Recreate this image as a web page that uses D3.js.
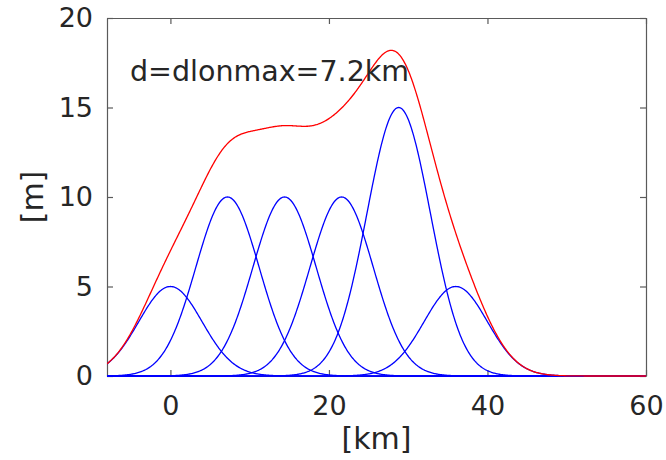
<!DOCTYPE html>
<html>
<head>
<meta charset="utf-8">
<script src="https://cdn.jsdelivr.net/npm/d3@7"></script>
<style>
  body { margin: 0; background: #fff; }
  svg text { font-family: "DejaVu Sans", sans-serif; fill: #262626; }
</style>
</head>
<body>
<svg id="chart" width="666" height="460"></svg>
<script>
// bump centres [km] and heights [m]
var centers = [0, 7.2, 14.4, 21.6, 28.8, 36];
var heights = [5, 10, 10, 10, 15, 5];
var sigma = 4; // bump width [km]
var xTicks = [0, 20, 40, 60];
var yTicks = [0, 5, 10, 15, 20];
var note = "d=dlonmax=7.2km";

var svg = d3.select("#chart");
const margin = {top: 18, right: 20, bottom: 84, left: 107};
var width = 666 - margin.left - margin.right;
var height = 460 - margin.top - margin.bottom;

var x = d3.scaleLinear().domain([-8, 60]).range([margin.left, margin.left + width]);
var y = d3.scaleLinear().domain([0, 20]).range([margin.top + height, margin.top]);

// sample positions along the x axis
var xs = d3.range(-8, 60.001, 0.1);

function bump(c, h){
    return xs.map(function(v){
        return {x: v, y: h * Math.exp(-(v - c) * (v - c) / (2 * sigma * sigma))};
    });
}

var bumps = centers.map(function(c, i){ return bump(c, heights[i]); });
var total = xs.map(function(v, j){
    return {x: v, y: d3.sum(bumps, function(b){ return b[j].y; })};
});

var line = d3.line()
    .x(function(d){ return x(d.x); })
    .y(function(d){ return y(d.y); });

// axes with inward ticks on all four sides
var axisColor = "#5a5a5a";
function styleAxis(sel){
    sel.select(".domain").attr("stroke", axisColor).attr("stroke-width", 1.2);
    sel.selectAll(".tick line").attr("stroke", axisColor).attr("stroke-width", 1.2);
    sel.selectAll(".tick text").attr("fill", "#262626").style("font-size", "27px")
       .style("font-family", "DejaVu Sans, sans-serif");
}

var axBottom = svg.append("g")
    .attr("transform", "translate(0," + (margin.top + height) + ")")
    .call(d3.axisBottom(x).tickValues(xTicks).tickSizeInner(-6).tickSizeOuter(0).tickPadding(20));
styleAxis(axBottom);

var axTop = svg.append("g")
    .attr("transform", "translate(0," + margin.top + ")")
    .call(d3.axisTop(x).tickValues(xTicks).tickSizeInner(-6).tickSizeOuter(0).tickFormat(""));
styleAxis(axTop);

var axLeft = svg.append("g")
    .attr("transform", "translate(" + margin.left + ",0)")
    .call(d3.axisLeft(y).tickValues(yTicks).tickSizeInner(-6).tickSizeOuter(0).tickPadding(14));
styleAxis(axLeft);

var axRight = svg.append("g")
    .attr("transform", "translate(" + (margin.left + width) + ",0)")
    .call(d3.axisRight(y).tickValues(yTicks).tickSizeInner(-6).tickSizeOuter(0).tickFormat(""));
styleAxis(axRight);

// curves drawn over the axes, clipped only left/right
svg.append("defs").append("clipPath").attr("id", "clip")
  .append("rect")
    .attr("x", margin.left).attr("y", margin.top - 5)
    .attr("width", width).attr("height", height + 10);

var g = svg.append("g").attr("clip-path", "url(#clip)");

g.selectAll("path.bump")
  .data(bumps)
  .enter()
  .append("path")
    .attr("class", "bump")
    .attr("d", line)
    .attr("fill", "none")
    .attr("stroke", "#0000ff")
    .attr("stroke-width", 1.3);

g.append("path")
  .datum(total)
  .attr("d", line)
  .attr("fill", "none")
  .attr("stroke", "#ff0000")
  .attr("stroke-width", 1.3);

svg.append("text")
    .attr("x", margin.left + width / 2)
    .attr("y", 449)
    .attr("text-anchor", "middle")
    .style("font-size", "30px")
    .text("[km]");

svg.append("text")
    .attr("transform", "translate(43," + (margin.top + height / 2) + ") rotate(-90)")
    .attr("text-anchor", "middle")
    .style("font-size", "30px")
    .text("[m]");

svg.append("text")
    .attr("x", 130)
    .attr("y", 81)
    .style("font-size", "28.5px")
    .text(note);
</script>
</body>
</html>
